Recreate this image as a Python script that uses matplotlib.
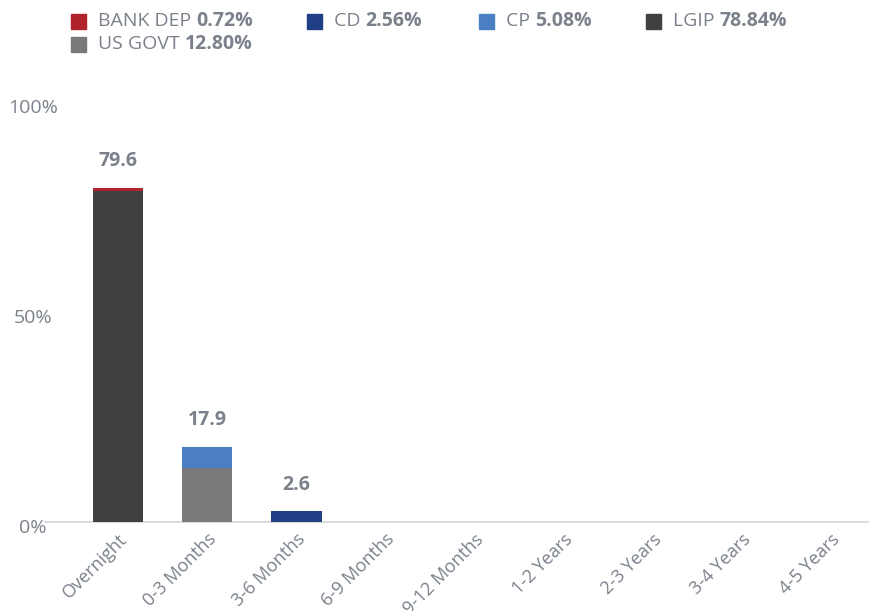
import matplotlib.pyplot as plt
import matplotlib.transforms as mtransforms
import numpy as np

plt.rcParams['font.family'] = ['Open Sans', 'DejaVu Sans']

categories = ['Overnight', '0-3 Months', '3-6 Months', '6-9 Months', '9-12 Months',
              '1-2 Years', '2-3 Years', '3-4 Years', '4-5 Years']

# series values per bucket (percent)
lgip     = [78.84, 0, 0, 0, 0, 0, 0, 0, 0]
us_govt  = [0, 12.80, 0, 0, 0, 0, 0, 0, 0]
cd       = [0, 0, 2.56, 0, 0, 0, 0, 0, 0]
cp       = [0, 5.08, 0, 0, 0, 0, 0, 0, 0]
bank_dep = [0.72, 0, 0, 0, 0, 0, 0, 0, 0]

totals_text = ['79.6', '17.9', '2.6', '', '', '', '', '', '']

legend_names = ['BANK DEP', 'CD', 'CP', 'LGIP', 'US GOVT']
legend_pcts = ['0.72%', '2.56%', '5.08%', '78.84%', '12.80%']

c_bank = '#b0232a'
c_cd = '#213f85'
c_cp = '#4a80c3'
c_lgip = '#404041'
c_govt = '#7a7a7a'
txt = '#7b818b'

fig = plt.figure(figsize=(8.71, 6.11), dpi=100)
ax = fig.add_axes([45/871, 1 - 522/611, (868-45)/871, 420/611])

x = np.arange(len(categories))
w = 0.57
bottom = np.zeros(len(categories))
for vals, col in [(lgip, c_lgip), (us_govt, c_govt), (cd, c_cd), (cp, c_cp), (bank_dep, c_bank)]:
    vals = np.array(vals)
    ax.bar(x, vals, w, bottom=bottom, color=col, zorder=3)
    bottom = bottom + vals

for i, t in enumerate(totals_text):
    if t:
        ax.annotate(t, (x[i], bottom[i]), xytext=(0, 12), textcoords='offset points',
                    ha='center', va='bottom', fontsize=14, fontweight='bold', color=txt)

ax.set_xlim(-0.82, 8.42)
ax.set_ylim(0, 100)
ax.set_yticks([0, 50, 100])
ax.set_yticklabels(['0%', '50%', '100%'], ha='center')
ax.set_xticks(x)
ax.set_xticklabels(categories, rotation=45, ha='right', rotation_mode='anchor')
for lab in ax.get_xticklabels():
    lab.set_transform(lab.get_transform() + mtransforms.ScaledTranslation(15/100, 0, fig.dpi_scale_trans))
ax.tick_params(axis='y', length=0, labelsize=14, labelcolor=txt, pad=8)
ax.tick_params(axis='x', length=0, labelsize=13, labelcolor=txt, pad=6)
for lab in ax.get_yticklabels():
    lab.set_transform(lab.get_transform() + mtransforms.ScaledTranslation(-1/100, -4/100, fig.dpi_scale_trans))
for s in ['top', 'right', 'left']:
    ax.spines[s].set_visible(False)
ax.spines['bottom'].set_color('#d4d4d4')
ax.spines['bottom'].set_linewidth(1.2)

# legend drawn by hand
leg_colors = [c_bank, c_cd, c_cp, c_lgip, c_govt]
leg_pos = [(71, 21), (307, 21), (479, 21), (646, 21), (71, 44)]
fig.canvas.draw()
r = fig.canvas.get_renderer()
for name, pct, col, (px, py) in zip(legend_names, legend_pcts, leg_colors, leg_pos):
    fx = px / 871
    fy = 1 - py / 611
    fig.patches.append(plt.Rectangle((fx, fy - 7.5/611), 15/871, 15/611, transform=fig.transFigure,
                                     color=col, figure=fig))
    t1 = fig.text((px + 27) / 871, fy, name + ' ', fontsize=14, color=txt, va='center', ha='left')
    bb = t1.get_window_extent(renderer=r)
    fig.text(bb.x1 / 871, fy, pct, fontsize=14, fontweight='bold', color=txt, va='center', ha='left')

fig.savefig('out.png', dpi=100)
